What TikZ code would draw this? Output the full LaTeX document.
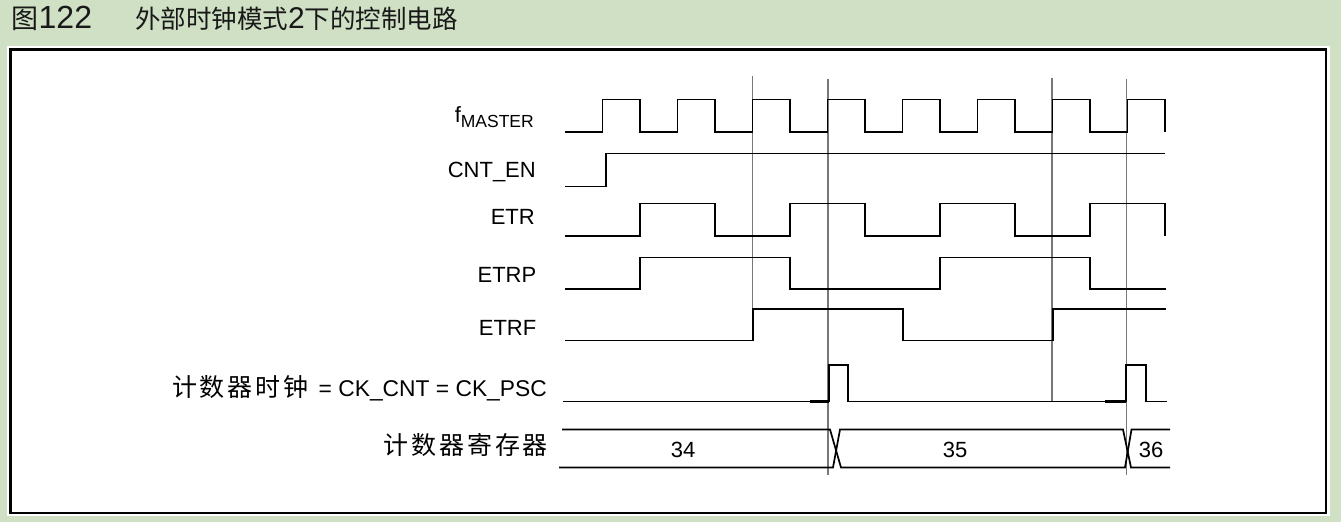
\documentclass[tikz,border=0pt]{standalone}
\usepackage{fontspec}
\setmainfont{Liberation Sans}
\newfontfamily\cjk{Noto Sans CJK SC}
\definecolor{bggreen}{RGB}{207,224,196}
\definecolor{guide}{RGB}{120,120,120}
\newcommand\cjbox[1]{\makebox[27.8pt]{\cjk\fontsize{25}{25}\selectfont #1}}
\begin{document}
\begin{tikzpicture}[x=1pt,y=-1pt,
  wave/.style={line width=1.7pt},
  guideline/.style={draw=guide,line width=1.2pt},
  lab/.style={anchor=base east,inner sep=0pt,font=\fontsize{22}{22}\selectfont},
  val/.style={anchor=center,inner sep=0pt,font=\fontsize{22}{22}\selectfont}]
\useasboundingbox (0,0) rectangle (1341,522);
\fill[bggreen] (0,0) rectangle (1341,522);
\fill[white] (7,46) rectangle (1330,516);
\draw[line width=2.7pt] (10.7,49.7) rectangle (1326,513);
% title
\node[anchor=base west,inner sep=0pt,text=black!90] (tnum) at (11.5,28.5) {{\cjk\fontsize{27}{27}\selectfont 图}{\fontsize{32}{32}\selectfont 122}};
\node[anchor=base west,inner sep=0pt,text=black!90] (ttext) at (135,28.5) {\cjk\fontsize{25.5}{25.5}\selectfont 外部时钟模式{\fontspec{Liberation Sans}\fontsize{30}{30}\selectfont 2}下的控制电路};
% guide lines
\draw[guideline] (752.5,76) -- (752.5,341);
\draw[guideline] (828,79) -- (828,475);
\draw[guideline] (1052,78) -- (1052,402);
\draw[guideline] (1126.5,79) -- (1126.5,475);
% labels
\node[lab] (lfm) at (534,122) {f\raisebox{-5pt}{\fontsize{17.5}{17.5}\selectfont MASTER}};
\node[lab] (lcnt) at (536,177.3) {CNT\_EN};
\node[lab] (letr) at (535,224) {ETR};
\node[lab] (letrp) at (536.5,282.7) {ETRP};
\node[lab] (letrf) at (536.5,335) {ETRF};
\node[lab] (lck) at (547,396) {\cjbox{计}\cjbox{数}\cjbox{器}\cjbox{时}\cjbox{钟}\hspace{9pt}{\fontsize{22.8}{22.8}\selectfont = CK\_CNT = CK\_PSC}};
\node[lab] (lreg) at (549.5,454) {\cjbox{计}\cjbox{数}\cjbox{器}\cjbox{寄}\cjbox{存}\cjbox{器}};
% fMASTER
\draw[wave] (565,132) -| (602.5,99.5) -| (640,132) -| (677.5,99.5) -| (715,132) -| (752.5,99.5) -| (790,132) -| (827.5,99.5) -| (865,132) -| (902.5,99.5) -| (940,132) -| (977.5,99.5) -| (1015,132) -| (1052.5,99.5) -| (1090,132) -| (1127.5,99.5) -| (1165,132);
% CNT_EN
\draw[wave] (565,186.5) -| (606,153.5) -- (1165,153.5);
% ETR
\draw[wave] (565,236) -| (640,203.5) -| (715,236) -| (790,203.5) -| (865,236) -| (940,203.5) -| (1015,236) -| (1090,203.5) -| (1165,236);
% ETRP
\draw[wave] (565,289) -| (640,257.5) -| (790,289) -| (940,257.5) -| (1090,289) -- (1166,289);
% ETRF
\draw[wave] (565,340.5) -| (753,309) -| (903,340.5) -| (1053,309) -- (1166,309);
% CK_CNT
\draw[wave] (563,401.5) -| (829,365) -| (848,401.5) -| (1126,365) -| (1146,401.5) -- (1167,401.5);
\draw[line width=2.6pt] (810,401.5) -- (829,401.5);
\draw[line width=2.6pt] (1105,401.5) -- (1126,401.5);
% counter register
\draw[wave] (562,429.5) -- (830,429.5) -- (841,467.5) -- (1125,467.5) -- (1131.5,429.5) -- (1170,429.5);
\draw[wave] (559,467.5) -- (833,467.5) -- (840,429.5) -- (1123,429.5) -- (1131,467.5) -- (1170,467.5);
\node[val] (v34) at (683,449.5) {34};
\node[val] (v35) at (955,449.5) {35};
\node[val] (v36) at (1151,449.5) {36};
\end{tikzpicture}
\end{document}
